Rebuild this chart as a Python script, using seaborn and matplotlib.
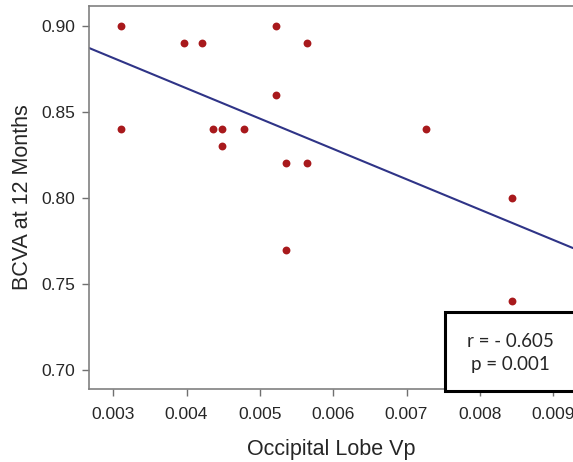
import numpy as np
import pandas as pd
import matplotlib
matplotlib.use("Agg")
import matplotlib.pyplot as plt
import matplotlib.patches as patches
import seaborn as sns

# values
occipital_vp = [0.00311, 0.00397, 0.00421, 0.00522, 0.00564, 0.00522, 0.00311,
                0.00436, 0.00448, 0.00479, 0.00448, 0.00536, 0.00564, 0.00727,
                0.00844, 0.00536, 0.00844]
bcva_12m = [0.90, 0.89, 0.89, 0.90, 0.89, 0.86, 0.84,
            0.84, 0.84, 0.84, 0.83, 0.82, 0.82, 0.84,
            0.80, 0.77, 0.74]
x_ticks = [0.003, 0.004, 0.005, 0.006, 0.007, 0.008, 0.009]
y_ticks = [0.70, 0.75, 0.80, 0.85, 0.90]
stats_text = "r = - 0.605\np = 0.001"

df = pd.DataFrame({"vp": occipital_vp, "bcva": bcva_12m})

sns.set_style("ticks")
plt.rcParams["font.family"] = ["Liberation Sans", "DejaVu Sans"]

fig = plt.figure(figsize=(5.73, 4.62), dpi=100)
ax = fig.add_axes([89 / 573, 73 / 462, 1 - 89 / 573, 383 / 462])
ax.set_xlim(0.00267, 0.00927)
ax.set_ylim(0.689, 0.9114)

sns.regplot(data=df, x="vp", y="bcva", ax=ax, ci=None, truncate=False,
            scatter_kws={"color": "#A8191C", "s": 32, "linewidths": 0,
                         "alpha": 1, "zorder": 3},
            line_kws={"color": "#2F3487", "lw": 1.5, "zorder": 2})

ax.set_xlim(0.00267, 0.00927)
ax.set_ylim(0.689, 0.9114)
ax.set_xticks(x_ticks)
ax.set_yticks(y_ticks)
ax.set_xticklabels([f"{t:.3f}" for t in x_ticks], family="Liberation Sans")
ax.set_yticklabels([f"{t:.2f}" for t in y_ticks], family="Liberation Sans")
ax.tick_params(labelsize=12.5, length=5, width=1, color="#707070", pad=5)
ax.tick_params(axis="x", pad=8)

for side in ["left", "bottom", "top"]:
    ax.spines[side].set_color("#808080")
    ax.spines[side].set_linewidth(1.2)
ax.spines["right"].set_visible(False)

ax.set_xlabel("Occipital Lobe Vp", family="Liberation Sans", fontsize=15.5,
              labelpad=12)
ax.set_ylabel("BCVA at 12 Months", family="Liberation Sans", fontsize=15.5,
              labelpad=6)

box = patches.Rectangle((445 / 573, 71 / 462), 0.3, 79 / 462,
                        transform=fig.transFigure, fill=True, facecolor="white",
                        edgecolor="black", lw=2.2, clip_on=False, zorder=10)
fig.patches.append(box)
fig.text(510 / 573, 109 / 462, stats_text, ha="center", va="center",
         family=["Lato", "DejaVu Sans"], fontsize=13.5, linespacing=1.4, zorder=11)

fig.savefig("out.png", dpi=100)
